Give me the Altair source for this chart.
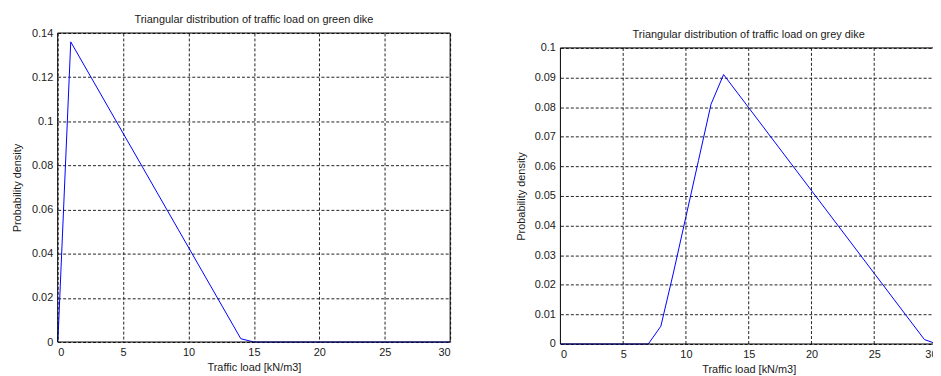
import altair as alt
import pandas as pd

# ---- data ----
green_x = [0, 0.05, 1, 14, 15, 30]
green_y = [0, 0.005, 0.136, 0.0015, 0, 0]

grey_x = [0, 7, 8, 9, 10, 11, 12, 13, 29, 30]
grey_y = [0, 0, 0.006, 0.024, 0.043, 0.062, 0.081, 0.091, 0.0015, 0]

x_ticks = [0, 5, 10, 15, 20, 25, 30]
green_y_ticks = [0, 0.02, 0.04, 0.06, 0.08, 0.1, 0.12, 0.14]
grey_y_ticks = [0, 0.01, 0.02, 0.03, 0.04, 0.05, 0.06, 0.07, 0.08, 0.09, 0.1]
grey_vgrid = [5, 10, 15, 20, 25]

title_green = "Triangular distribution of traffic load on green dike"
title_grey = "Triangular distribution of traffic load on grey dike"
x_title = "Traffic load [kN/m3]"
y_title = "Probability density"

FONT = "Liberation Sans"
TXT = "#1a1a1a"
GRID = "#222222"

common_axis = dict(
    labelFont=FONT, labelFontSize=11, labelColor=TXT, labelOverlap=False,
    titleFont=FONT, titleFontSize=11, titleFontWeight="normal", titleColor=TXT,
    domain=False, ticks=False,
    gridColor=GRID, gridDash=[3, 2], gridWidth=1, gridOpacity=1,
)

df_green = pd.DataFrame({"x": green_x, "y": green_y})
df_grey = pd.DataFrame({"x": grey_x, "y": grey_y})
df_frame_green = pd.DataFrame({"x0": [0], "x1": [30], "y0": [0], "y1": [0.14]})
df_frame_grey = pd.DataFrame({"x0": [0], "x1": [30], "y0": [0], "y1": [0.1]})
df_vgrid = pd.DataFrame({"x": grey_vgrid, "y0": [0] * len(grey_vgrid), "y1": [0.1] * len(grey_vgrid)})

# ---------------- left panel ----------------
xg_scale = alt.Scale(domain=[0, 30], nice=False, zero=False)
xg_axis = alt.Axis(values=x_ticks, format="~g", title=x_title,
                   labelPadding=5, titlePadding=4, grid=True, **common_axis)
yg_scale = alt.Scale(domain=[0, 0.14], nice=False)
yg_axis = alt.Axis(values=green_y_ticks, format="~g", title=y_title,
                   labelPadding=5, titlePadding=9, grid=True, **common_axis)

green_line = alt.Chart(df_green).mark_line(color="#0000ff", strokeWidth=1).encode(
    x=alt.X("x:Q", scale=xg_scale, axis=xg_axis),
    y=alt.Y("y:Q", scale=yg_scale, axis=yg_axis))
green_frame = alt.Chart(df_frame_green).mark_rect(fillOpacity=0, stroke="black", strokeWidth=1).encode(
    x=alt.X("x0:Q", scale=xg_scale, axis=xg_axis), x2="x1:Q",
    y=alt.Y("y0:Q", scale=yg_scale, axis=yg_axis), y2="y1:Q")

left = alt.layer(green_line, green_frame).properties(
    width=395, height=311,
    title=alt.TitleParams(title_green, font=FONT, fontSize=11, fontWeight="normal",
                          color=TXT, offset=2, anchor="middle"),
)

# ---------------- right panel ----------------
xr_scale = alt.Scale(domain=[0, 30], nice=False, zero=False)
xr_axis = alt.Axis(values=x_ticks, format="~g", title=x_title,
                   labelPadding=5, titlePadding=4, grid=False, **common_axis)
yr_scale = alt.Scale(domain=[0, 0.1], nice=False, range=[313, 15])
yr_axis = alt.Axis(values=grey_y_ticks, format="~g", title=y_title,
                   labelPadding=5, titlePadding=8, grid=True, **common_axis)

grey_vg = alt.Chart(df_vgrid).mark_rule(color=GRID, strokeDash=[3, 2], strokeWidth=1).encode(
    x=alt.X("x:Q", scale=xr_scale, axis=xr_axis),
    y=alt.Y("y0:Q", scale=yr_scale, axis=yr_axis), y2="y1:Q")
grey_line = alt.Chart(df_grey).mark_line(color="#0000ff", strokeWidth=1).encode(
    x=alt.X("x:Q", scale=xr_scale, axis=xr_axis),
    y=alt.Y("y:Q", scale=yr_scale, axis=yr_axis))
grey_frame = alt.Chart(df_frame_grey).mark_rect(fillOpacity=0, stroke="black", strokeWidth=1).encode(
    x=alt.X("x0:Q", scale=xr_scale, axis=xr_axis), x2="x1:Q",
    y=alt.Y("y0:Q", scale=yr_scale, axis=yr_axis), y2="y1:Q")

right = alt.layer(grey_line, grey_vg, grey_frame).properties(
    width=379, height=313,
    title=alt.TitleParams(title_grey, font=FONT, fontSize=11, fontWeight="normal",
                          color=TXT, offset=2, anchor="middle", dy=9),
)

chart = alt.hconcat(left, right, spacing=63).properties(
    padding={"left": 3, "top": 5, "right": -6, "bottom": 0},
    background="white",
).configure_view(strokeWidth=0)

chart.save("out.html", embed_options={"renderer": "svg", "actions": False})
